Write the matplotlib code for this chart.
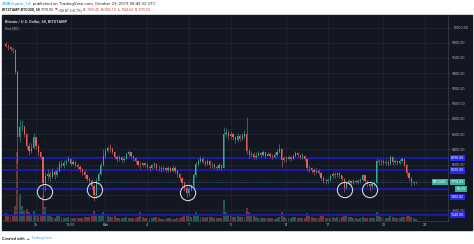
import matplotlib
matplotlib.use("Agg")
import matplotlib.pyplot as plt
import matplotlib.dates as mdates
from matplotlib.patches import Rectangle
import pandas as pd
from datetime import datetime

plt.rcParams['font.family'] = ['Roboto', 'DejaVu Sans']

BG = "#131722"
UP = "#3aa896"
DOWN = "#e25e5c"
LEVEL = "#1c1cae"

# 4h candles, Bitstamp BTCUSD, from 2019-09-23 20:00 UTC
first_open = 9790
closes = [
    9760,
    9740, 9720, 9700, 9420, 8560, 8700,   # Sep 24
    8700, 8600, 8450, 8380, 8420, 8560,   # Sep 25
    8440, 8360, 8300, 7960, 8050, 8080,   # Sep 26
    8040, 8100, 8060, 8120, 8210, 8180,   # Sep 27
    8220, 8250, 8280, 8210, 8240, 8200,   # Sep 28
    8170, 8140, 8110, 8060, 8010, 7990,   # Sep 29
    7920, 7800, 7990, 8080, 8200, 8310,   # Sep 30
    8380, 8420, 8400, 8370, 8300, 8280,   # Oct 1
    8300, 8260, 8280, 8340, 8360, 8320,   # Oct 2
    8290, 8250, 8200, 8190, 8220, 8200,   # Oct 3
    8170, 8150, 8190, 8210, 8160, 8150,   # Oct 4
    8140, 8160, 8130, 8150, 8120, 8160,   # Oct 5
    8120, 8080, 8020, 7960, 7900, 7830,   # Oct 6
    7880, 7920, 8060, 8210, 8250, 8280,   # Oct 7
    8240, 8210, 8250, 8190, 8200, 8170,   # Oct 8
    8160, 8190, 8160, 8600, 8620, 8570,   # Oct 9
    8600, 8560, 8520, 8580, 8540, 8580,   # Oct 10
    8600, 8380, 8330, 8340, 8300, 8320,   # Oct 11
    8350, 8330, 8360, 8320, 8340, 8320,   # Oct 12
    8300, 8330, 8360, 8410, 8260, 8290,   # Oct 13
    8270, 8300, 8280, 8310, 8350, 8330,   # Oct 14
    8300, 8320, 8280, 8160, 8150, 8130,   # Oct 15
    8110, 8120, 8090, 8030, 7990, 7980,   # Oct 16
    8000, 8050, 8080, 8060, 8090, 8060,   # Oct 17
    8010, 7900, 7960, 7980, 7960, 7990,   # Oct 18
    7970, 7980, 8000, 8060, 7990, 7950,   # Oct 19
    7920, 7940, 7960, 8250, 8230, 8250,   # Oct 20
    8220, 8240, 8210, 8300, 8230, 8250,   # Oct 21
    8220, 8250, 8270, 8200, 8090, 8030,   # Oct 22
    7960, 7975, 7970.03,                  # Oct 23
]
highs = [
    9810,
    9790, 9760, 9740, 9720, 9440, 8790,
    8790, 8720, 8620, 8480, 8480, 8620,
    8560, 8470, 8380, 8320, 8100, 8140,
    8120, 8150, 8130, 8170, 8250, 8260,
    8260, 8280, 8320, 8290, 8270, 8250,
    8220, 8190, 8160, 8130, 8080, 8040,
    8010, 7940, 8020, 8110, 8230, 8400,
    8420, 8450, 8470, 8430, 8380, 8330,
    8330, 8310, 8320, 8370, 8390, 8370,
    8330, 8300, 8260, 8230, 8240, 8240,
    8220, 8190, 8210, 8240, 8220, 8190,
    8180, 8180, 8170, 8180, 8170, 8190,
    8180, 8130, 8090, 8040, 7980, 7920,
    7910, 7950, 8090, 8240, 8290, 8310,
    8300, 8260, 8280, 8260, 8240, 8220,
    8200, 8220, 8210, 8690, 8680, 8650,
    8640, 8620, 8580, 8610, 8600, 8620,
    8650, 8830, 8400, 8380, 8360, 8360,
    8380, 8370, 8390, 8370, 8370, 8360,
    8340, 8360, 8400, 8470, 8420, 8320,
    8310, 8330, 8320, 8340, 8380, 8370,
    8340, 8350, 8330, 8290, 8190, 8170,
    8150, 8150, 8140, 8100, 8050, 8020,
    8030, 8080, 8110, 8100, 8110, 8100,
    8070, 8020, 7990, 8010, 8000, 8010,
    8000, 8010, 8030, 8080, 8070, 8000,
    7960, 7970, 7990, 8290, 8280, 8280,
    8270, 8270, 8260, 8330, 8310, 8280,
    8260, 8280, 8300, 8280, 8210, 8100,
    8040, 7990, 7983.10,
]
lows = [
    9740,
    9710, 9690, 9660, 9390, 8220, 8500,
    8640, 8560, 8400, 8330, 8350, 8400,
    8400, 8320, 8270, 7780, 7850, 8000,
    7990, 8020, 8010, 8040, 8100, 8150,
    8160, 8190, 8230, 8180, 8190, 8170,
    8140, 8100, 8070, 8030, 7980, 7940,
    7880, 7720, 7760, 7980, 8060, 8180,
    8290, 8360, 8370, 8340, 8270, 8240,
    8250, 8230, 8240, 8270, 8310, 8290,
    8250, 8210, 8170, 8140, 8170, 8170,
    8140, 8120, 8140, 8160, 8130, 8120,
    8110, 8120, 8100, 8110, 8100, 8110,
    8090, 8040, 7990, 7920, 7860, 7770,
    7790, 7850, 7900, 8040, 8180, 8220,
    8210, 8180, 8200, 8160, 8150, 8140,
    8130, 8140, 8130, 8150, 8560, 8530,
    8540, 8520, 8480, 8500, 8510, 8530,
    8550, 8340, 8290, 8300, 8270, 8280,
    8310, 8300, 8320, 8290, 8310, 8290,
    8270, 8290, 8320, 8350, 8170, 8240,
    8240, 8260, 8250, 8270, 8300, 8300,
    8280, 8280, 8250, 8120, 8110, 8090,
    8070, 8080, 8060, 8000, 7960, 7950,
    7960, 7990, 8030, 8030, 8040, 8030,
    7980, 7840, 7880, 7940, 7930, 7950,
    7940, 7950, 7960, 7990, 7960, 7910,
    7860, 7880, 7910, 7940, 8190, 8200,
    8190, 8200, 8180, 8200, 8200, 8210,
    8190, 8210, 8220, 8170, 8050, 7990,
    7920, 7930, 7944.64,
]
volumes = [
    4.5,
    3.5, 2.5, 3, 9, 40, 16,
    9, 6, 7, 5, 4, 6,
    4, 3.5, 3, 15, 8, 4,
    3, 2.5, 2, 3, 3.5, 2.5,
    2, 1.8, 2.5, 2, 1.8, 1.6,
    1.6, 1.8, 2, 2.2, 2.4, 2.5,
    3, 6, 4, 3, 3.5, 5,
    4, 3, 2.5, 2.5, 3, 2,
    1.8, 1.6, 1.8, 2.2, 2, 1.6,
    1.8, 2, 2.5, 5.5, 2.5, 2,
    2, 1.6, 2, 2.5, 2.2, 1.6,
    1.4, 1.2, 1.3, 1.5, 1.6, 1.4,
    1.3, 1.6, 2, 2.4, 2.8, 4,
    3.5, 2.5, 3, 5, 3.5, 2.5,
    2.5, 2, 2.2, 2.5, 2.2, 1.8,
    1.8, 2, 1.8, 12, 5, 3,
    3, 2.5, 2.6, 2.8, 2.5, 2.2,
    2.5, 7.5, 5, 3, 3, 2.5,
    2, 1.6, 1.8, 1.8, 2, 1.6,
    1.5, 1.4, 1.6, 2.5, 5.5, 2.5,
    2, 1.8, 2, 2.2, 2.5, 2,
    1.8, 1.8, 2, 4.5, 3, 2.2,
    2, 1.8, 2, 3.5, 2.8, 2,
    1.8, 2, 2.2, 2, 2.2, 1.8,
    2.2, 4, 3, 2.5, 2.2, 1.8,
    1.6, 1.4, 1.6, 2.2, 2, 1.8,
    2, 1.6, 1.8, 5, 3, 2.2,
    2, 1.8, 2, 3, 2.5, 2,
    1.8, 1.8, 2.2, 2.5, 3.5, 3,
    2.5, 2, 1.2,
]

levels = [8290, 8125, 7885.82, 7540]
last_price = 7970.03

circle_times = ["2019-09-26 15:30", "2019-09-30 05:45", "2019-10-06 22:30",
                "2019-10-18 05:30", "2019-10-20 00:45"]
circle_prices = [7840, 7867, 7828, 7867, 7867]

xtick_times = ["2019-09-26 00:00", "2019-09-28 12:00", "2019-10-01 00:00",
               "2019-10-04 00:00", "2019-10-07 00:00", "2019-10-10 00:00",
               "2019-10-14 00:00", "2019-10-17 00:00", "2019-10-21 00:00",
               "2019-10-24 00:00"]
xtick_labels = ["26", "12:00", "Oct", "4", "7", "10", "14", "17", "21", "24"]

grid_prices = list(range(7600, 10001, 200))
hidden_prices = [7800, 8000]


def px(x, y):
    return x / 474, 1 - y / 244


def to_num(strings):
    return mdates.date2num(pd.to_datetime(strings, format="%Y-%m-%d %H:%M").to_pydatetime())


def text_run(fig, parts, x, y, size):
    # parts: (text, colour, weight, gap after in px)
    r = fig.canvas.get_renderer()
    for s, color, weight, gap in parts:
        t = fig.text(*px(x, y), s, color=color, fontsize=size,
                     fontweight=weight, va="center", ha="left")
        x += t.get_window_extent(r).width + gap


def main():
    fig = plt.figure(figsize=(4.74, 2.44), dpi=100, facecolor="white")
    fig.patches.append(Rectangle(px(2, 230), 470 / 474, 215 / 244,
                                 transform=fig.transFigure, color=BG, zorder=0))

    ax = fig.add_axes([2 / 474, 1 - 221 / 244, 446 / 474, 206 / 244])
    ax.set_zorder(2)
    ax.patch.set_visible(False)
    ax2 = ax.twinx()
    ax2.set_zorder(1)
    ax2.patch.set_visible(False)

    times = pd.date_range("2019-09-23 20:00", periods=len(closes), freq="4h")
    x = mdates.date2num(times.to_pydatetime())
    opens = [first_open] + closes[:-1]
    colors = [UP if c >= o else DOWN for o, c in zip(opens, closes)]

    ax2.bar(x, volumes, width=0.14, color=colors, alpha=0.45, linewidth=0)
    ax2.set_ylim(0, 120)
    ax2.axis("off")

    ax.vlines(x, lows, highs, colors=colors, linewidth=0.4, zorder=3)
    bottoms = [min(o, c) for o, c in zip(opens, closes)]
    heights = [max(abs(c - o), 6) for o, c in zip(opens, closes)]
    ax.bar(x, heights, bottom=bottoms, width=0.085, color=colors,
           linewidth=0, zorder=3)

    for lv in levels:
        ax.axhline(lv, color=LEVEL, linewidth=1.5, alpha=0.9, zorder=2)
    ax.axhline(last_price, color=UP, linewidth=0.5, linestyle=":", alpha=0.8,
               zorder=2)

    ax.scatter(to_num(circle_times), circle_prices, s=120, facecolors="none",
               edgecolors="#cfd6d6", linewidths=0.8, zorder=4)

    sep26 = mdates.date2num(datetime(2019, 9, 26))
    ax.set_xlim(sep26 - 34 / 13.9, sep26 + 412 / 13.9)
    ax.set_ylim(10000 - 193.5 / 0.0762, 10000 + 12.5 / 0.0762)

    ax.set_xticks(to_num(xtick_times))
    ax.set_xticklabels(xtick_labels)
    ax.tick_params(axis="x", length=0, pad=1.6, labelsize=2.7,
                   labelcolor="#b2b5be")
    for lab in ax.get_xticklabels():
        if lab.get_text() == "Oct":
            lab.set_fontweight("bold")

    ax.yaxis.tick_right()
    ax.set_yticks(grid_prices)
    ax.set_yticklabels(["" if p in hidden_prices else "%.2f" % p
                        for p in grid_prices])
    ax.tick_params(axis="y", length=1.5, width=0.4, color="#50535e", pad=1.5,
                   labelsize=2.6, labelcolor="#b2b5be")
    ax.grid(color="#242836", linewidth=0.5)
    ax.set_axisbelow(True)
    for side in ["top", "left"]:
        ax.spines[side].set_visible(False)
    for side in ["right", "bottom"]:
        ax.spines[side].set_color("#363a45")
        ax.spines[side].set_linewidth(0.6)

    ytr = ax.get_yaxis_transform()

    def box(price, s, color, dx=2.0, dy=0.0, ha="left"):
        ax.annotate(s, xy=(1, price), xycoords=ytr, xytext=(dx, dy),
                    textcoords="offset points", fontsize=2.6, color="white",
                    ha=ha, va="center", annotation_clip=False, zorder=6,
                    bbox=dict(boxstyle="square,pad=0.35", fc=color, ec="none"))

    for lv in levels:
        dy = -6.0 if lv == 7885.82 else 0.0
        box(lv, "%.2f" % lv, "#2828e8", dy=dy)
    box(last_price, "%.2f" % last_price, "#3aae9c")
    box(last_price, "60:29", "#3aae9c", dx=6.0, dy=-5.0)
    box(last_price, "BTCUSD", "#3aae9c", dx=-1.0, ha="right")

    fig.text(*px(5, 22), "Bitcoin / U.S. Dollar, 60, BITSTAMP", color="#d1d4dc",
             fontsize=2.8, fontweight="bold", va="center")
    fig.text(*px(5, 28.5), "Vol (20)", color="#b2b5be", fontsize=2.8,
             va="center")

    dark = "#222222"
    red = "#e53935"
    text_run(fig, [("AMBCrypto_1A", "#2196f3", "normal", 1.2),
                   ("published on TradingView.com, October 23, 2019 08:49:32 UTC",
                    "#333333", "normal", 0)], 2, 4, 3.18)
    text_run(fig, [("BITSTAMP:BTCUSD, 60", dark, "bold", 1.2),
                   ("7970.03", dark, "normal", 1.0),
                   ("\u25bc", red, "normal", 0.8),
                   ("\u221255.87 (\u22120.7%)", dark, "normal", 1.0),
                   ("O:", dark, "normal", 0.2), ("7959.45", red, "normal", 1.0),
                   ("H:", dark, "normal", 0.2), ("7983.10", red, "normal", 1.0),
                   ("L:", dark, "normal", 0.2), ("7944.64", red, "normal", 1.0),
                   ("C:", dark, "normal", 0.2), ("7970.03", red, "normal", 0)],
             2, 10, 2.5)
    text_run(fig, [("Created with", "#333333", "bold", 1.2),
                   ("\u2601", "#4aa8e0", "normal", 0.8),
                   ("TradingView", "#5fb8e8", "normal", 0)], 2, 238.5, 2.9)

    fig.savefig("out.png", dpi=100, facecolor="white")


if __name__ == "__main__":
    main()
